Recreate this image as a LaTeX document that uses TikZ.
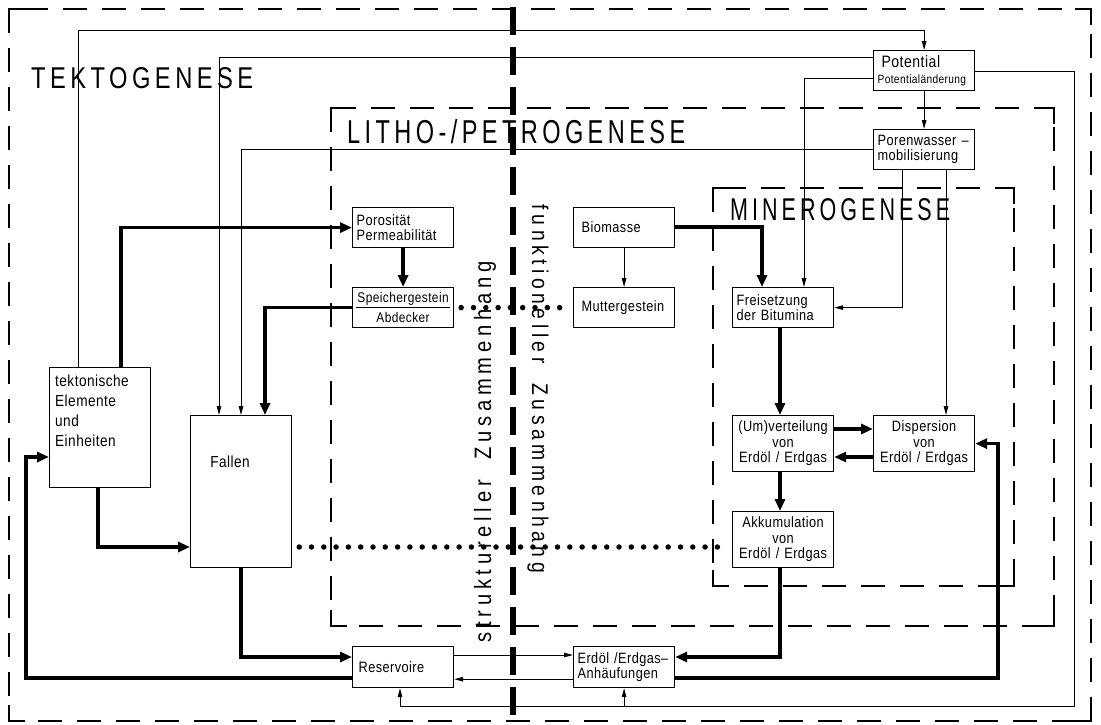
\documentclass[tikz,border=0pt]{standalone}
\usepackage{fontspec}
\usepackage{graphicx}
\setmainfont{Liberation Sans}
\newfontfamily\titlef{Liberation Sans}[FakeStretch=0.8,LetterSpace=15]
\newfontfamily\vertf{Liberation Sans}[FakeStretch=0.85,LetterSpace=20]
\newfontfamily\boxf{Liberation Sans}[FakeStretch=0.85,LetterSpace=3]
\usetikzlibrary{arrows.meta,calc}
\newcommand\bxfont{\boxf\fontsize{15}{15.5}\selectfont}
\newcommand\crn[4]{%
 \draw[corner] (#1,#2+16) -- (#1,#2) -- (#1+16,#2);
 \draw[corner] (#3-16,#2) -- (#3,#2) -- (#3,#2+16);
 \draw[corner] (#1,#4-16) -- (#1,#4) -- (#1+16,#4);
 \draw[corner] (#3-16,#4) -- (#3,#4) -- (#3,#4-16);}
\begin{document}
\begin{tikzpicture}[x=1pt,y=-1pt,
 box/.style={draw, line width=1.2pt, anchor=north west, inner xsep=4pt, inner ysep=0pt, text width=93pt, minimum height=40pt, font=\bxfont, align=left},
 cbox/.style={box, align=center},
 thk/.style={line width=3.6pt, -{Triangle[length=12pt,width=10pt]}},
 thn/.style={line width=1pt, -{Triangle[length=9pt,width=4.5pt]}},
 dotl/.style={line width=5.5pt, line cap=round, dash pattern=on 0pt off 12.3pt},
 frame/.style={line width=2.6pt, dash pattern=on 24pt off 15pt},
 corner/.style={line width=2.6pt},
]
\fill[white] (0,0) rectangle (1101,724);
\useasboundingbox (0,0) rectangle (1101,724);

% frames
\draw[frame] (9,9) rectangle (1091,721);
\crn{9}{9}{1091}{721}
\draw[frame, line width=2.8pt] (331,108) rectangle (1054,626);
\crn{331}{108}{1054}{626}
\draw[frame, line width=2.8pt] (713,188) rectangle (1014,586);
\crn{713}{188}{1014}{586}
\draw[line width=6pt, dash pattern=on 28pt off 12pt] (513,7) -- (513,724);

% titles
\node[anchor=base west, inner sep=0] (tt) at (31,88) {\resizebox{222pt}{21pt}{\fontsize{29}{30}\selectfont\titlef TEKTOGENESE}};
\node[anchor=base west, inner sep=0] (lt) at (347,143) {\resizebox{338pt}{24pt}{\fontsize{29}{30}\selectfont\titlef LITHO-/PETROGENESE}};
\node[anchor=base west, inner sep=0] (mt) at (730,220) {\resizebox{220pt}{22pt}{\fontsize{29}{30}\selectfont\titlef MINEROGENESE}};

\node[rotate=90, inner sep=0] (struk) at (485,452) {\resizebox{381pt}{!}{\fontsize{23}{24}\selectfont\vertf struktureller\hspace{10pt} Zusammenhang}};
\node[rotate=-90, inner sep=0] (funk) at (538,389) {\resizebox{368pt}{!}{\fontsize{23}{24}\selectfont\vertf funktioneller\hspace{10pt} Zusammenhang}};

% boxes
\node[box] (pot) at (873,50) {{\fontsize{16.5}{16}\selectfont\hspace*{4pt}Potential}\\[0pt]{\fontsize{12}{13}\selectfont Potentialänderung}};
\node[box] (por) at (873,129) {Porenwasser –\\mobilisierung};
\node[box] (poro) at (352,207) {Porosität\\Permeabilität};
\node[cbox, inner xsep=2pt, text width=97pt, font=\boxf\fontsize{14}{20}\selectfont] (spei) at (352,287) {Speichergestein\\Abdecker};
\node[box] (bio) at (573,207) {\hspace*{4pt}Biomasse};
\node[box] (mut) at (573,287) {\hspace*{4pt}Muttergestein};
\node[box] (fre) at (732,287) {Freisetzung\\der Bitumina};
\node[cbox, minimum height=56pt] (umv) at (732,415) {(Um)verteilung\\von\\Erdöl / Erdgas};
\node[cbox, minimum height=56pt] (dis) at (873,415) {Dispersion\\von\\Erdöl / Erdgas};
\node[cbox, minimum height=56pt] (akk) at (732,511) {Akkumulation\\von\\Erdöl / Erdgas};
\node[box, minimum height=120pt] (tek) at (49,367) {};
\node[box, minimum height=152pt] (fal) at (190,415) {};
\node[box, minimum height=41pt] (res) at (352,646) {\hspace*{2pt}Reservoire};
\node[box, minimum height=41pt] (anh) at (573,646) {Erdöl /Erdgas–\\Anhäufungen};
\node[anchor=north west, align=left, inner sep=0, font=\boxf\fontsize{16}{20}\selectfont] (tektxt) at (55,375) {tektonische\\Elemente\\und\\Einheiten};
\node[font=\boxf\fontsize{16}{16}\selectfont, inner sep=0] (faltxt) at (230,462) {Fallen};

\draw[line width=1pt] ([xshift=4pt]spei.west) -- ([xshift=-4pt]spei.east);

% thick connectors
\draw[thk] ([xshift=72pt]tek.north west) |- (poro.west);
\draw[thk] (poro.south) -- (spei.north);
\draw[thk] (spei.west) -| ([xshift=75pt]fal.north west);
\draw[thk] ([xshift=49pt]tek.south west) |- ([yshift=-132pt]fal.north west);
\draw[thk] (fal.south) |- ([yshift=-11pt]res.north west);
\draw[thk] ([yshift=10pt]res.south west) -| ([xshift=-23pt,yshift=-90pt]tek.north west) -- ([yshift=-90pt]tek.north west);
\draw[thk] ([yshift=-20pt]bio.north east) -| ([xshift=30pt]fre.north west);
\draw[thk] ([xshift=48pt]fre.south west) -- ([xshift=48pt]umv.north west);
\draw[thk] ([yshift=-14pt]umv.north east) -- ([yshift=-14pt]dis.north west);
\draw[thk] ([yshift=-42pt]dis.north west) -- ([yshift=-42pt]umv.north east);
\draw[thk] ([xshift=48pt]umv.south west) -- ([xshift=48pt]akk.north west);
\draw[thk] ([xshift=48pt]akk.south west) |- ([yshift=-11pt]anh.north east);
\draw[thk] ([yshift=10pt]anh.south east) -| ([xshift=23pt]dis.east) -- (dis.east);

% thin connectors
\coordinate (gb) at (1074,706);
\draw[thn] ([xshift=29pt]tek.north west) |- ([yshift=20pt]pot.north) -- (pot.north);
\draw[thn] ([yshift=-7pt]pot.north west) -| ([xshift=29pt]fal.north west);
\draw[thn] ([yshift=-28pt]pot.north west) -| ([xshift=72pt]fre.north west);
\draw[thn] ([yshift=-20pt]por.north west) -| ([xshift=51pt]fal.north west);
\draw[thn] ([xshift=29pt]por.south west) |- (fre.east);
\draw[thn] ([xshift=73pt]por.south west) -- ([xshift=73pt]dis.north west);
\draw[thn] (pot.south) -- (por.north);
\draw[thn] (bio.south) -- (mut.north);
\draw[thn] ([yshift=-21pt]pot.north east) -| (gb) -| ([xshift=48pt]res.south west);
\draw[thn] (gb -| anh.south) -- (anh.south);
\draw[thn] ([yshift=-9pt]res.north east) -- ([yshift=-9pt]anh.north west);
\draw[thn] ([yshift=9pt]anh.south west) -- ([yshift=9pt]res.south east);

% dotted
\draw[dotl] ([xshift=7pt]spei.east) -- ([xshift=-6pt]mut.west);
\draw[dotl] ([xshift=7pt,yshift=-132pt]fal.north east) -- ([xshift=-7pt,yshift=-36pt]akk.north west);
\end{tikzpicture}
\end{document}
